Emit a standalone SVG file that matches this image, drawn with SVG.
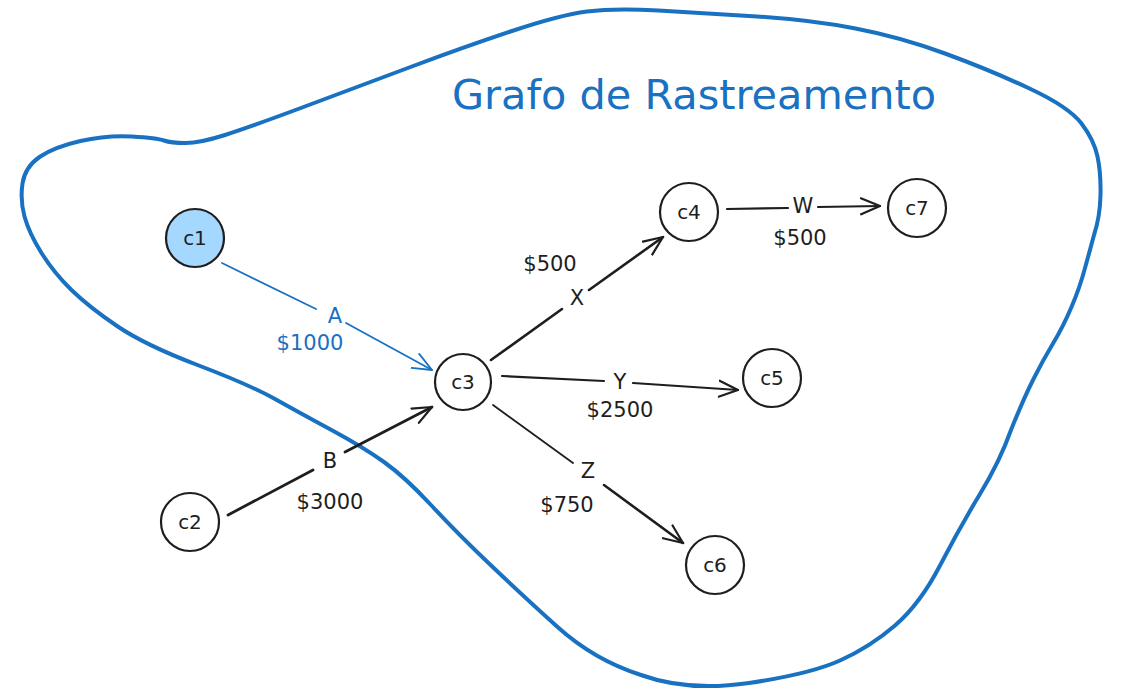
<svg xmlns="http://www.w3.org/2000/svg" width="1122" height="694" viewBox="0 0 1122 694">
<style>
.node circle{fill:#ffffff;stroke:#1e1e1e;stroke-width:2.2}
.node text{font-family:"DejaVu Sans","Liberation Sans",sans-serif;font-size:20px;fill:#1e1e1e;text-anchor:middle;dominant-baseline:central}
.edge{fill:none;stroke:#1e1e1e;stroke-width:2.2;stroke-linecap:round}
.blue{stroke:#1971c2;stroke-width:1.8}
.lbl{font-family:"DejaVu Sans","Liberation Sans",sans-serif;font-size:21px;fill:#1e1e1e;text-anchor:middle;dominant-baseline:central}
.lblb{fill:#1971c2}
</style>
<defs>
<marker id="ah" viewBox="0 0 22 22" refX="20" refY="11" markerWidth="22" markerHeight="22" markerUnits="userSpaceOnUse" orient="auto">
<path d="M1,3 L20,11 L1,19" fill="none" stroke="#1e1e1e" stroke-width="2.2" stroke-linecap="round" stroke-linejoin="round"/>
</marker>
<marker id="ahb" viewBox="0 0 22 22" refX="20" refY="11" markerWidth="22" markerHeight="22" markerUnits="userSpaceOnUse" orient="auto">
<path d="M1,3 L20,11 L1,19" fill="none" stroke="#1971c2" stroke-width="1.8" stroke-linecap="round" stroke-linejoin="round"/>
</marker>
</defs>
<rect width="1122" height="694" fill="#ffffff"/>
<g id="boundary">
<path fill="none" stroke="#1971c2" stroke-width="4" stroke-linejoin="round" d="M24.5,216.5 Q20,200 22.5,183.5 Q25,167 39.5,157 Q54,147 80.5,141 Q107,135 132,136.5 Q157,138 164,140.5 Q171,143 185.5,143 Q200,143 225,135 Q250,127 303.5,107 Q357,87 410.5,67 Q464,47 512,31 Q560,15 587,11.5 Q614,8 658.5,10.5 Q703,13 757,16.5 Q811,20 855.5,28.5 Q900,37 945,53.5 Q990,70 1029.5,88.5 Q1069,107 1081.5,123.5 Q1094,140 1097.5,156.5 Q1101,173 1100.5,195 Q1100,217 1094,235 Q1090,250 1085,268 Q1080,287 1071.5,307 Q1063,327 1053,343.5 Q1043,360 1033,380 Q1023,400 1011,430 Q1000,461 980,494 Q960,527 940,565.5 Q920,604 895,625.5 Q870,647 840,660.5 Q810,674 749,683 Q688,692 641,675 Q594,660 557,626.5 Q520,593 488.5,563 Q457,533 431,505 Q405,477 384,462 Q363,447 331.5,430 Q300,413 275,399 Q250,385 197.5,365 Q145,345 117,326 Q89,307 71.5,290 Q54,273 41.5,253 Q29,233 24.5,216.5 Z"/>
<text x="694" y="95" font-family="DejaVu Sans, Liberation Sans, sans-serif" font-size="41" fill="#1971c2" text-anchor="middle" dominant-baseline="central" textLength="484" lengthAdjust="spacingAndGlyphs">Grafo de Rastreamento</text>
</g>
<g id="connectors">
<g id="edge-A">
<line class="edge blue" x1="222" y1="263" x2="316" y2="309"/>
<line class="edge blue" x1="346" y1="323" x2="432" y2="370" marker-end="url(#ahb)"/>
<text class="lbl lblb" x="335" y="316">A</text>
<text class="lbl lblb" x="310" y="343">$1000</text>
</g>
<g id="edge-B">
<line class="edge" style="stroke-width:2.8" x1="228" y1="515" x2="313" y2="470"/>
<line class="edge" style="stroke-width:2.8" x1="345" y1="452" x2="432" y2="407" marker-end="url(#ah)"/>
<text class="lbl" x="330" y="461">B</text>
<text class="lbl" x="330" y="502">$3000</text>
</g>
<g id="edge-X">
<line class="edge" style="stroke-width:2.6" x1="491" y1="360" x2="562" y2="309"/>
<line class="edge" style="stroke-width:2.6" x1="589" y1="290" x2="663" y2="237" marker-end="url(#ah)"/>
<text class="lbl" x="577" y="298">X</text>
<text class="lbl" x="550" y="264">$500</text>
</g>
<g id="edge-Y">
<line class="edge" x1="502" y1="376" x2="604" y2="381"/>
<line class="edge" x1="633" y1="383" x2="738" y2="390" marker-end="url(#ah)"/>
<text class="lbl" x="620" y="382">Y</text>
<text class="lbl" x="620" y="410">$2500</text>
</g>
<g id="edge-Z">
<line class="edge" style="stroke-width:1.8" x1="493" y1="405" x2="573" y2="463"/>
<line class="edge" style="stroke-width:2.6" x1="604" y1="485" x2="683" y2="543" marker-end="url(#ah)"/>
<text class="lbl" x="588" y="471">Z</text>
<text class="lbl" x="567" y="505">$750</text>
</g>
<g id="edge-W">
<line class="edge" x1="727" y1="209" x2="788" y2="208"/>
<line class="edge" x1="818" y1="207" x2="880" y2="206" marker-end="url(#ah)"/>
<text class="lbl" x="803" y="206">W</text>
<text class="lbl" x="800" y="238">$500</text>
</g>
</g>
<g id="c1" class="node"><circle cx="195" cy="238" r="29" style="fill:#a5d8ff"/><text x="195" y="238">c1</text></g>
<g id="c2" class="node"><circle cx="190" cy="522" r="29"/><text x="190" y="522">c2</text></g>
<g id="c3" class="node"><circle cx="463" cy="382" r="28"/><text x="463" y="382">c3</text></g>
<g id="c4" class="node"><circle cx="689" cy="212" r="29"/><text x="689" y="212">c4</text></g>
<g id="c5" class="node"><circle cx="772" cy="378" r="29"/><text x="772" y="378">c5</text></g>
<g id="c6" class="node"><circle cx="715" cy="565" r="29"/><text x="715" y="565">c6</text></g>
<g id="c7" class="node"><circle cx="917" cy="208" r="29"/><text x="917" y="208">c7</text></g>
</svg>
